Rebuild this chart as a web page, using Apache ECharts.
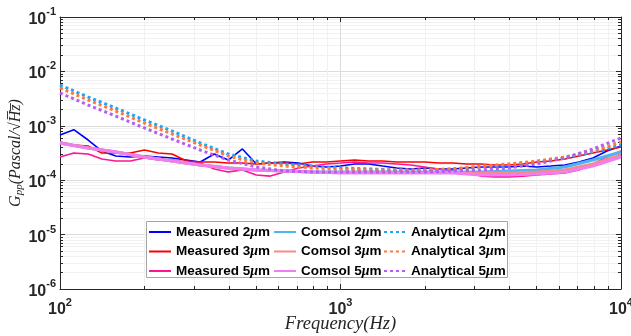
<!DOCTYPE html>
<html>
<head>
<meta charset="utf-8">
<script src="https://cdn.jsdelivr.net/npm/echarts@6/dist/echarts.min.js"></script>
<style>
html,body{margin:0;padding:0;background:#fff;}
#main{width:631px;height:336px;}
</style>
</head>
<body>
<div id="main"></div>
<script>
// measured spectra, 0.05 decade steps
var freqMeas = [100,112,126,141,158,178,200,224,251,282,316,355,398,447,501,562,631,708,794,891,
	1000,1122,1259,1413,1585,1778,1995,2239,2512,2818,3162,3548,3981,4467,5012,5623,6310,7079,7943,8913,10000];
var meas2 = [6.78e-4,8.5e-4,5.48e-4,3.44e-4,2.79e-4,2.67e-4,2.79e-4,2.67e-4,2.56e-4,2.35e-4,
	2.16e-4,3.03e-4,2.35e-4,3.75e-4,1.99e-4,2.07e-4,2.16e-4,2.07e-4,1.82e-4,1.75e-4,
	1.82e-4,1.99e-4,1.99e-4,1.82e-4,1.68e-4,1.61e-4,1.68e-4,1.61e-4,1.61e-4,1.68e-4,
	1.75e-4,1.75e-4,1.75e-4,1.82e-4,1.75e-4,1.82e-4,1.90e-4,2.16e-4,2.56e-4,3.44e-4,4.25e-4];
var meas3 = [5.04e-4,4.44e-4,4.25e-4,3.16e-4,3.16e-4,3.16e-4,3.59e-4,3.16e-4,3.03e-4,2.25e-4,
	2.16e-4,2.16e-4,2.07e-4,2.07e-4,1.99e-4,2.07e-4,2.07e-4,1.99e-4,2.16e-4,2.16e-4,
	2.25e-4,2.35e-4,2.25e-4,2.25e-4,2.16e-4,2.16e-4,2.16e-4,2.07e-4,2.07e-4,1.99e-4,
	1.99e-4,1.90e-4,1.90e-4,1.99e-4,2.16e-4,2.25e-4,2.45e-4,2.79e-4,3.16e-4,3.59e-4,4.08e-4];
var meas5 = [2.67e-4,3.16e-4,3.03e-4,2.45e-4,2.25e-4,2.25e-4,2.56e-4,2.35e-4,2.35e-4,2.16e-4,
	2.07e-4,1.61e-4,1.42e-4,1.54e-4,1.25e-4,1.19e-4,1.42e-4,1.68e-4,1.82e-4,1.99e-4,
	2.07e-4,2.16e-4,2.07e-4,2.07e-4,1.99e-4,1.90e-4,1.75e-4,1.61e-4,1.48e-4,1.36e-4,
	1.19e-4,1.15e-4,1.15e-4,1.19e-4,1.25e-4,1.30e-4,1.36e-4,1.54e-4,1.99e-4,2.67e-4,3.44e-4];

// model curves, 0.1 decade steps
var freqModel = [100,126,158,200,251,316,398,501,631,794,1000,1259,1585,1995,2512,3162,3981,5012,6310,7943,10000];
var comsol2 = [4.83e-4,3.91e-4,3.30e-4,2.67e-4,2.25e-4,1.90e-4,1.68e-4,1.54e-4,1.48e-4,1.42e-4,
	1.42e-4,1.42e-4,1.42e-4,1.42e-4,1.42e-4,1.42e-4,1.48e-4,1.54e-4,1.75e-4,2.35e-4,3.30e-4];
var comsol3 = [4.83e-4,3.91e-4,3.30e-4,2.67e-4,2.25e-4,1.90e-4,1.68e-4,1.54e-4,1.48e-4,1.42e-4,
	1.39e-4,1.39e-4,1.39e-4,1.39e-4,1.39e-4,1.36e-4,1.36e-4,1.42e-4,1.54e-4,1.99e-4,2.90e-4];
var comsol5 = [4.83e-4,3.91e-4,3.30e-4,2.67e-4,2.25e-4,1.90e-4,1.68e-4,1.54e-4,1.48e-4,1.42e-4,
	1.36e-4,1.36e-4,1.36e-4,1.36e-4,1.36e-4,1.25e-4,1.25e-4,1.30e-4,1.42e-4,1.82e-4,2.67e-4];
var analyt2 = [5.62e-3,3.38e-3,2.12e-3,1.28e-3,8.02e-4,4.83e-4,3.03e-4,2.25e-4,1.99e-4,1.82e-4,
	1.68e-4,1.61e-4,1.54e-4,1.54e-4,1.61e-4,1.75e-4,1.90e-4,2.16e-4,2.56e-4,3.30e-4,4.44e-4];
var analyt3 = [4.96e-3,2.98e-3,1.87e-3,1.125e-3,7.07e-4,4.44e-4,2.79e-4,2.07e-4,1.82e-4,1.68e-4,
	1.61e-4,1.54e-4,1.54e-4,1.54e-4,1.61e-4,1.82e-4,1.99e-4,2.25e-4,2.67e-4,3.44e-4,5.04e-4];
var analyt5 = [4.01e-3,2.41e-3,1.51e-3,9.12e-4,5.72e-4,3.59e-4,2.35e-4,1.75e-4,1.48e-4,1.42e-4,
	1.42e-4,1.42e-4,1.42e-4,1.42e-4,1.48e-4,1.54e-4,1.68e-4,1.99e-4,2.56e-4,3.75e-4,5.97e-4];

// minor tick values
var xMinor = [200,300,400,500,600,700,800,900,2000,3000,4000,5000,6000,7000,8000,9000];
var yMinor = [2e-6,3e-6,4e-6,5e-6,6e-6,7e-6,8e-6,9e-6,
	2e-5,3e-5,4e-5,5e-5,6e-5,7e-5,8e-5,9e-5,
	2e-4,3e-4,4e-4,5e-4,6e-4,7e-4,8e-4,9e-4,
	2e-3,3e-3,4e-3,5e-3,6e-3,7e-3,8e-3,9e-3,
	2e-2,3e-2,4e-2,5e-2,6e-2,7e-2,8e-2,9e-2];

function pairs(xs, ys){
	return xs.map(function(x,i){ return [x, ys[i]]; });
}

var myChart = echarts.init(document.getElementById('main'));

var powLabel = function(v){
	var e = Math.round(Math.log(v)/Math.LN10);
	return '{b|10}{s|' + e + '}';
};
var powRich = {
	b:{fontFamily:'Liberation Sans',fontWeight:'bold',fontSize:16,color:'#262626',padding:[5,0,0,0]},
	s:{fontFamily:'Liberation Sans',fontWeight:'bold',fontSize:11,color:'#262626',verticalAlign:'top'}
};
var legText = {fontFamily:'Liberation Sans',fontWeight:'bold',fontSize:13.5,color:'#000',lineHeight:12,
	rich:{i:{fontFamily:'Liberation Serif',fontStyle:'italic',fontSize:14,color:'#000',lineHeight:12}}};
var legFmt = function(name){ return name.replace('μm','{i|μ}m'); };

function line(name, xs, ys, color, width, type){
	return {
		name:name, type:'line', data:pairs(xs, ys),
		xAxisIndex:0, yAxisIndex:0,
		showSymbol:false, symbol:'none',
		lineStyle:{color:color, width:width, type:type || 'solid', cap:'butt'},
		itemStyle:{color:color},
		emphasis:{disabled:true}
	};
}

var option = {
	animation:false,
	backgroundColor:'#fff',
	grid:{left:60, right:10, top:17, bottom:47, outerBoundsMode:'none', containLabel:false},
	graphic:[{
		type:'rect', z:3, shape:{x:146.5, y:221.5, width:361, height:56},
		style:{fill:'#fff', stroke:'#a6a6a6', lineWidth:1}
	}],
	legend:[
		{data:['Measured 2μm','Measured 3μm','Measured 5μm'], left:148, top:225},
		{data:['Comsol 2μm','Comsol 3μm','Comsol 5μm'], left:273, top:225},
		{data:['Analytical 2μm','Analytical 3μm','Analytical 5μm'], left:383, top:225}
	].map(function(l){
		l.orient = 'vertical'; l.itemWidth = 22; l.itemHeight = 12; l.itemGap = 5.5;
		l.padding = 0; l.z = 4; l.textStyle = legText; l.formatter = legFmt; l.selectedMode = false;
		l.itemStyle = {opacity:0, borderWidth:0};
		return l;
	}),
	xAxis:[
		{type:'log', min:100, max:10000, position:'bottom',
			name:'Frequency(Hz)', nameLocation:'middle', nameGap:26, nameMoveOverlap:false,
			nameTextStyle:{fontFamily:'Liberation Serif', fontStyle:'italic', fontSize:18.5, color:'#262626'},
			axisLine:{lineStyle:{color:'#262626', width:1}},
			axisTick:{inside:true, length:5, lineStyle:{color:'#262626'}},
			axisLabel:{formatter:powLabel, rich:powRich, margin:8},
			splitLine:{show:true, lineStyle:{color:'#dcdcdc', width:1}}},
		{type:'log', min:100, max:10000, position:'bottom',
			axisLine:{show:false},
			axisTick:{inside:true, length:3, customValues:xMinor, lineStyle:{color:'#262626'}},
			axisLabel:{show:false},
			splitLine:{show:true, lineStyle:{color:'#f1f1f1', width:1}}},
		{type:'log', min:100, max:10000, position:'top',
			axisLine:{lineStyle:{color:'#262626', width:1}},
			axisTick:{inside:true, length:5, lineStyle:{color:'#262626'}},
			axisLabel:{show:false}, splitLine:{show:false}},
		{type:'log', min:100, max:10000, position:'top',
			axisLine:{show:false},
			axisTick:{inside:true, length:3, customValues:xMinor, lineStyle:{color:'#262626'}},
			axisLabel:{show:false}, splitLine:{show:false}}
	],
	yAxis:[
		{type:'log', min:1e-6, max:0.1, position:'left',
			name:'{g|G}{p|pp}{g|(Pascal/√H\u0305z\u0305)}', nameLocation:'middle', nameGap:35, nameMoveOverlap:false,
			nameTextStyle:{color:'#262626', rich:{
				g:{fontFamily:'Liberation Serif', fontStyle:'italic', fontSize:16, color:'#262626'},
				p:{fontFamily:'Liberation Serif', fontStyle:'italic', fontSize:11, color:'#262626', padding:[8,0,0,0]}}},
			axisLine:{lineStyle:{color:'#262626', width:1}},
			axisTick:{inside:true, length:5, lineStyle:{color:'#262626'}},
			axisLabel:{formatter:powLabel, rich:powRich, margin:4},
			splitLine:{show:true, lineStyle:{color:'#dcdcdc', width:1}}},
		{type:'log', min:1e-6, max:0.1, position:'left',
			axisLine:{show:false},
			axisTick:{inside:true, length:3, customValues:yMinor, lineStyle:{color:'#262626'}},
			axisLabel:{show:false},
			splitLine:{show:true, lineStyle:{color:'#f1f1f1', width:1}}},
		{type:'log', min:1e-6, max:0.1, position:'right',
			axisLine:{lineStyle:{color:'#262626', width:1}},
			axisTick:{inside:true, length:5, lineStyle:{color:'#262626'}},
			axisLabel:{show:false}, splitLine:{show:false}},
		{type:'log', min:1e-6, max:0.1, position:'right',
			axisLine:{show:false},
			axisTick:{inside:true, length:3, customValues:yMinor, lineStyle:{color:'#262626'}},
			axisLabel:{show:false}, splitLine:{show:false}}
	],
	series:[
		line('Measured 2μm', freqMeas, meas2, '#0000ff', 1.6),
		line('Measured 3μm', freqMeas, meas3, '#ff0000', 1.6),
		line('Measured 5μm', freqMeas, meas5, '#ff1493', 1.6),
		line('Comsol 2μm', freqModel, comsol2, '#4db6f2', 3),
		line('Comsol 3μm', freqModel, comsol3, '#f58a8a', 3),
		line('Comsol 5μm', freqModel, comsol5, '#f07ef0', 3),
		line('Analytical 2μm', freqModel, analyt2, '#1ea5f5', 3, [3,3]),
		line('Analytical 3μm', freqModel, analyt3, '#ff7a3a', 3, [3,3]),
		line('Analytical 5μm', freqModel, analyt5, '#b45ef2', 3, [3,3])
	]
};
myChart.setOption(option);
</script>
</body>
</html>
